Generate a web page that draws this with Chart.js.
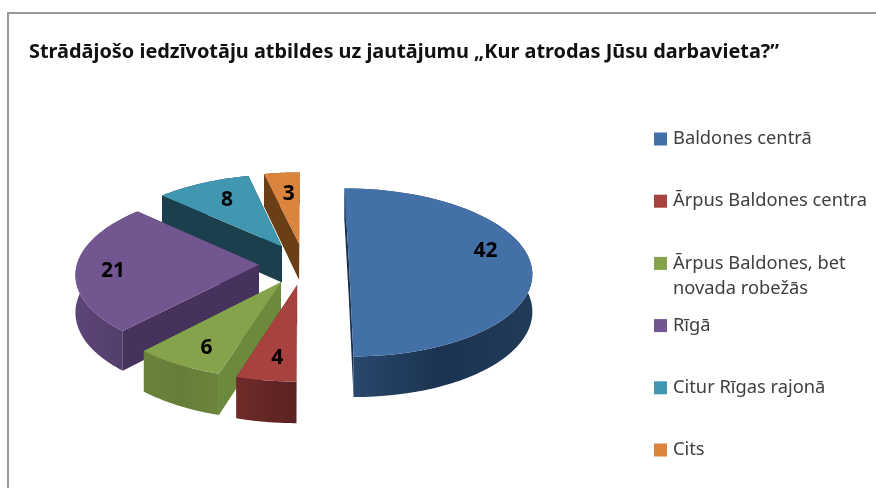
<!DOCTYPE html>
<html>
<head>
<meta charset="utf-8">
<style>
  html, body { margin: 0; background: #fff; overflow: hidden; }
  #frame { position: absolute; left: 7px; top: 12px; right: 0; bottom: 0; border-left: 2px solid #999; border-top: 2px solid #999; }
  #myChart { position: absolute; left: 0; top: 0; filter: blur(0.7px); }
</style>
</head>
<body>
<div id="frame"></div>
<canvas id="myChart" width="876" height="488"></canvas>
<script src="https://cdn.jsdelivr.net/npm/chart.js@4/dist/chart.umd.min.js"></script>
<script>
const titleText = 'Strādājošo iedzīvotāju atbildes uz jautājumu „Kur atrodas Jūsu darbavieta?”';
const categories = ['Baldones centrā', 'Ārpus Baldones centra', 'Ārpus Baldones, bet novada robežās', 'Rīgā', 'Citur Rīgas rajonā', 'Cits'];
const answers = [42, 4, 6, 21, 8, 3];

const topColors = ['#4470A8', '#A8423F', '#85A34B', '#71568F', '#4097AF', '#DB843D'];
const wallColors = [
  ['#2a4a70', '#1b3350', '#203b58'],
  ['#6e2b29', '#642625', '#5a2221'],
  ['#6a833b', '#667d3a', '#6b853d'],
  ['#5c4578', '#57416f', '#4f3a68'],
  ['#1c3f4d', '#1c3f4d', '#1c3f4d'],
  ['#6a3f18', '#6a3f18', '#6a3f18']
];
const sideColors = ['#17304d', '#6e2b29', '#6b8a3c', '#46325c', '#1c3f4d', '#6a3f18'];

// the flat pie from Chart.js gets tilted onto this plane
const tilt = { cx: 304, cy: 264, halfHeight: 84, depth: 37, perspective: 0.1 };
const drawOrder = [5, 4, 0, 3, 2, 1];
const labelLift = [-13, 3, 5, 4, 2, 5];
const labelPush = [0, 3, 1, -9, 6, 3];

function project(x, y, r, down) {
  const k = 1 + tilt.perspective * y / r;
  return [tilt.cx + x * k, tilt.cy + (y / r) * tilt.halfHeight * k + (down ? tilt.depth * k : 0)];
}

function fillPoly(ctx, pts, fill) {
  ctx.beginPath();
  pts.forEach((p, i) => i ? ctx.lineTo(p[0], p[1]) : ctx.moveTo(p[0], p[1]));
  ctx.closePath();
  ctx.fillStyle = fill;
  ctx.fill();
}

function drawSlice(ctx, el, i) {
  const r = el.outerRadius;
  const mid = (el.startAngle + el.endAngle) / 2;
  const ox = Math.cos(mid) * el.options.offset;
  const oy = Math.sin(mid) * el.options.offset;

  const rim = [];
  const steps = 60;
  for (let s = 0; s <= steps; s++) {
    const a = el.startAngle + (el.endAngle - el.startAngle) * s / steps;
    rim.push([ox + Math.cos(a) * r, oy + Math.sin(a) * r]);
  }
  const first = rim[0];
  const last = rim[steps];
  const at = (p, down) => project(p[0], p[1], r, down);
  const apex = [ox, oy];

  fillPoly(ctx, [at(apex), at(first), at(first, true), at(apex, true)], sideColors[i]);
  fillPoly(ctx, [at(apex), at(last), at(last, true), at(apex, true)], sideColors[i]);

  const xs = rim.map(p => at(p)[0]);
  const grad = ctx.createLinearGradient(Math.min(...xs), 0, Math.max(...xs), 0);
  grad.addColorStop(0, wallColors[i][0]);
  grad.addColorStop(0.5, wallColors[i][1]);
  grad.addColorStop(1, wallColors[i][2]);
  fillPoly(ctx, rim.map(p => at(p)).concat(rim.slice().reverse().map(p => at(p, true))), grad);

  fillPoly(ctx, [at(apex)].concat(rim.map(p => at(p))), topColors[i]);
}

function wrapLabel(ctx, text, maxWidth) {
  const lines = [];
  let line = '';
  text.split(' ').forEach(word => {
    const test = line ? line + ' ' + word : word;
    if (line && ctx.measureText(test).width > maxWidth) {
      lines.push(line);
      line = word;
    } else {
      line = test;
    }
  });
  lines.push(line);
  return lines;
}

const tiltedPie = {
  id: 'tiltedPie',
  beforeDatasetsDraw(chart) {
    const ctx = chart.ctx;
    const arcs = chart.getDatasetMeta(0).data;
    drawOrder.forEach(i => drawSlice(ctx, arcs[i], i));

    // value labels
    ctx.save();
    ctx.font = 'bold 21px "Noto Sans"';
    ctx.fillStyle = '#000';
    ctx.textAlign = 'center';
    ctx.textBaseline = 'middle';
    arcs.forEach((el, i) => {
      const mid = (el.startAngle + el.endAngle) / 2;
      const d = el.options.offset + el.outerRadius * 0.75;
      const p = project(Math.cos(mid) * d, Math.sin(mid) * d, el.outerRadius);
      ctx.fillText(answers[i], p[0] + labelPush[i], p[1] + labelLift[i]);
    });
    ctx.restore();
    return false;
  },
  afterDraw(chart) {
    // legend has even steps, a wrapped label does not push the next one down
    const ctx = chart.ctx;
    ctx.save();
    ctx.font = '18.3px "Noto Sans"';
    ctx.textBaseline = 'middle';
    chart.data.labels.forEach((label, i) => {
      const y = 139 + i * 62.2;
      ctx.fillStyle = topColors[i];
      ctx.fillRect(654, y - 6.5, 13, 13);
      ctx.fillStyle = '#404040';
      wrapLabel(ctx, label, 200).forEach((line, n) => ctx.fillText(line, 673, y + n * 25));
    });
    ctx.restore();
  }
};

const ctx = document.getElementById('myChart').getContext('2d');
const myChart = new Chart(ctx, {
  type: 'pie',
  data: {
    labels: categories,
    datasets: [{
      data: answers,
      backgroundColor: topColors,
      borderWidth: 0,
      offset: 45
    }]
  },
  options: {
    responsive: false,
    animation: false,
    radius: 182,
    layout: { padding: { left: 29 } },
    plugins: {
      legend: { display: false },
      tooltip: { enabled: false },
      title: {
        display: true,
        text: titleText,
        align: 'start',
        color: '#111',
        font: { family: '"Noto Sans"', size: 19.9, weight: 'bold' },
        padding: { top: 40, bottom: 10 }
      }
    }
  },
  plugins: [tiltedPie]
});
</script>
</body>
</html>
